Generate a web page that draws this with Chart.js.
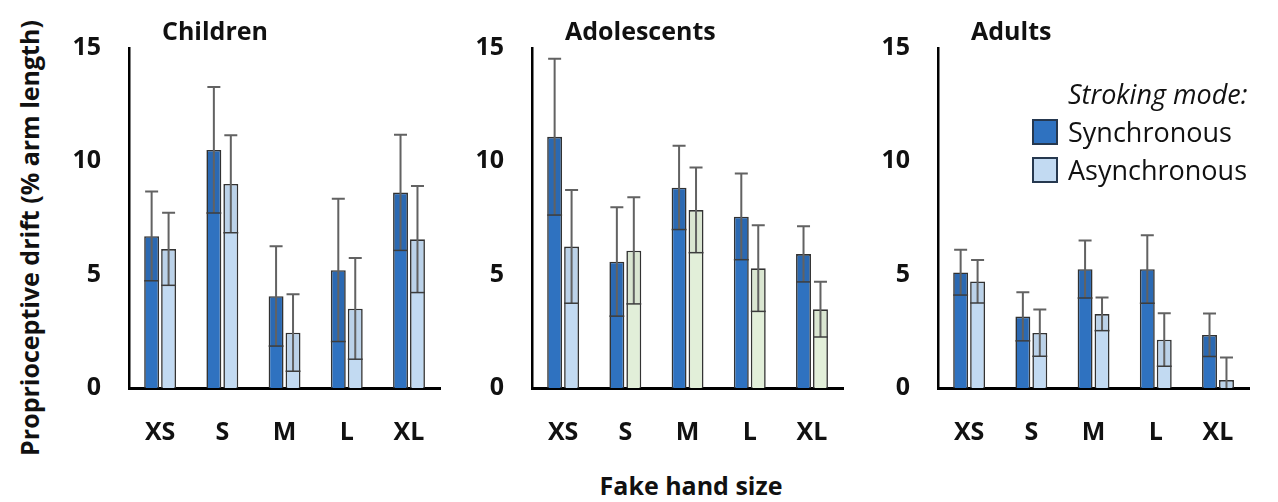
<!DOCTYPE html>
<html>
<head>
<meta charset="utf-8">
<script src="https://cdn.jsdelivr.net/npm/chart.js@4.4.1/dist/chart.umd.min.js"></script>
<style>
  body { margin: 0; background: #fff; width: 1278px; height: 502px; overflow: hidden; position: relative; font-family: "Open Sans", sans-serif; color: #111; }
  canvas { position: absolute; top: 0; }
  .ytitle { position: absolute; left: 29px; top: 238px; transform: translate(-50%, -50%) rotate(-90deg); white-space: nowrap; font-weight: bold; font-size: 25px; }
  .xtitle { position: absolute; left: 691px; top: 485px; transform: translate(-50%, -50%); white-space: nowrap; font-weight: bold; font-size: 25px; }
  .legend { position: absolute; left: 1032px; top: 75px; font-size: 27px; line-height: 38px; }
  .legend .head { font-style: italic; margin-left: 36px; }
  .legend .row { display: flex; align-items: center; }
  .legend .box { width: 22px; height: 22px; border: 2px solid #26384f; margin-right: 10px; }
</style>
</head>
<body>
<canvas id="children" width="406" height="448" style="left:49px"></canvas>
<canvas id="adolescents" width="406" height="448" style="left:452px"></canvas>
<canvas id="adults" width="406" height="448" style="left:858px"></canvas>
<div class="ytitle">Proprioceptive drift (% arm length)</div>
<div class="xtitle">Fake hand size</div>
<div class="legend" id="legend"></div>
<script>
const sizes = ['XS', 'S', 'M', 'L', 'XL'];
const yTicks = [0, 5, 10, 15];
const modes = ['Synchronous', 'Asynchronous'];

const childrenSync = [6.7, 10.5, 4.05, 5.2, 8.62];
const childrenSyncErr = [1.97, 2.78, 2.2, 3.15, 2.55];
const childrenAsync = [6.13, 9.0, 2.44, 3.5, 6.56];
const childrenAsyncErr = [1.6, 2.15, 1.7, 2.23, 2.35];

const adolescentsSync = [11.08, 5.57, 8.84, 7.56, 5.91];
const adolescentsSyncErr = [3.45, 2.4, 1.85, 1.9, 1.23];
const adolescentsAsync = [6.24, 6.06, 7.85, 5.28, 3.47];
const adolescentsAsyncErr = [2.5, 2.35, 1.88, 1.9, 1.22];

const adultsSync = [5.1, 3.15, 5.24, 5.24, 2.34];
const adultsSyncErr = [1.0, 1.07, 1.27, 1.5, 0.95];
const adultsAsync = [4.7, 2.43, 3.26, 2.13, 0.35];
const adultsAsyncErr = [0.95, 1.03, 0.73, 1.17, 1.0];

const FONT = '"Open Sans", sans-serif';
const syncColor = '#2f72c0';
const asyncColor = '#c2daf2';
const greenColor = '#e2efd9';

// error bars: whisker above the bar, lower end shown as a line across the bar
const errorBars = {
  id: 'errorBars',
  afterDatasetsDraw(chart) {
    const {ctx, chartArea} = chart;
    const y = chart.scales.y;
    ctx.save();
    ctx.beginPath();
    ctx.rect(chartArea.left, chartArea.top - 20, chartArea.width, chartArea.height + 20);
    ctx.clip();
    chart.data.datasets.forEach((ds, i) => {
      chart.getDatasetMeta(i).data.forEach((bar, j) => {
        const v = ds.data[j], e = ds.errors[j];
        const yTop = y.getPixelForValue(v + e);
        const low = v - e;
        const yLow = y.getPixelForValue(Math.max(low, 0));
        const half = bar.width / 2;
        ctx.fillStyle = i === 0 ? 'rgba(0,0,0,0.07)' : 'rgba(0,0,0,0.035)';
        ctx.fillRect(bar.x - half + 1, bar.y + 1, bar.width - 2, yLow - bar.y - 1);
        ctx.strokeStyle = '#626262';
        ctx.lineWidth = 2;
        ctx.beginPath();
        ctx.moveTo(bar.x, yTop);
        ctx.lineTo(bar.x, yLow);
        ctx.moveTo(bar.x - 6.5, yTop);
        ctx.lineTo(bar.x + 6.5, yTop);
        ctx.stroke();
        if (low > 0) {
          ctx.strokeStyle = '#3d3d3d';
          ctx.lineWidth = 1.5;
          ctx.beginPath();
          ctx.moveTo(bar.x - half, yLow);
          ctx.lineTo(bar.x + half, yLow);
          ctx.stroke();
        }
      });
    });
    ctx.restore();
  }
};

const panelTitle = {
  id: 'panelTitle',
  afterDraw(chart, args, opts) {
    const {ctx, chartArea} = chart;
    ctx.save();
    ctx.font = 'bold 25px ' + FONT;
    ctx.fillStyle = '#111';
    ctx.textBaseline = 'middle';
    ctx.fillText(opts.text, chartArea.left + 33, 33);
    ctx.restore();
  }
};

function makePanel(id, title, sync, syncErr, async, asyncErr, asyncColors) {
  new Chart(document.getElementById(id), {
    type: 'bar',
    data: {
      labels: sizes,
      datasets: [
        { label: modes[0], data: sync, errors: syncErr, backgroundColor: syncColor },
        { label: modes[1], data: async, errors: asyncErr, backgroundColor: asyncColors }
      ]
    },
    options: {
      responsive: false,
      animation: false,
      devicePixelRatio: 1,
      layout: { padding: { top: 48, right: 6, bottom: 0, left: 0 } },
      datasets: {
        bar: { borderColor: '#333', borderWidth: 1.6, categoryPercentage: 0.545, barPercentage: 0.88 }
      },
      plugins: {
        legend: { display: false },
        tooltip: { enabled: false },
        panelTitle: { text: title }
      },
      scales: {
        x: {
          z: 1,
          grid: { display: false, drawTicks: false },
          border: { display: true, color: '#000', width: 3 },
          ticks: { color: '#111', padding: 30, font: { family: FONT, size: 25, weight: 'bold' } },
          afterFit: s => { s.height = 60; }
        },
        y: {
          z: 1,
          min: 0,
          max: 15,
          afterBuildTicks: s => { s.ticks = yTicks.map(v => ({ value: v })); },
          grid: { display: false, drawTicks: false },
          border: { display: true, color: '#000', width: 2.5 },
          ticks: { color: '#111', padding: 28, font: { family: FONT, size: 25, weight: 'bold' } },
          afterFit: s => { s.width = 80; }
        }
      }
    },
    plugins: [errorBars, panelTitle]
  });
}

makePanel('children', 'Children', childrenSync, childrenSyncErr, childrenAsync, childrenAsyncErr, asyncColor);
makePanel('adolescents', 'Adolescents', adolescentsSync, adolescentsSyncErr, adolescentsAsync, adolescentsAsyncErr,
  [asyncColor, greenColor, greenColor, greenColor, greenColor]);
makePanel('adults', 'Adults', adultsSync, adultsSyncErr, adultsAsync, adultsAsyncErr, asyncColor);

// legend built from the series names and colours
const legend = document.getElementById('legend');
legend.innerHTML = '<div class="head">Stroking mode:</div>' +
  modes.map((m, i) => '<div class="row"><span class="box" style="background:' +
    [syncColor, asyncColor][i] + '"></span>' + m + '</div>').join('');
</script>
</body>
</html>
